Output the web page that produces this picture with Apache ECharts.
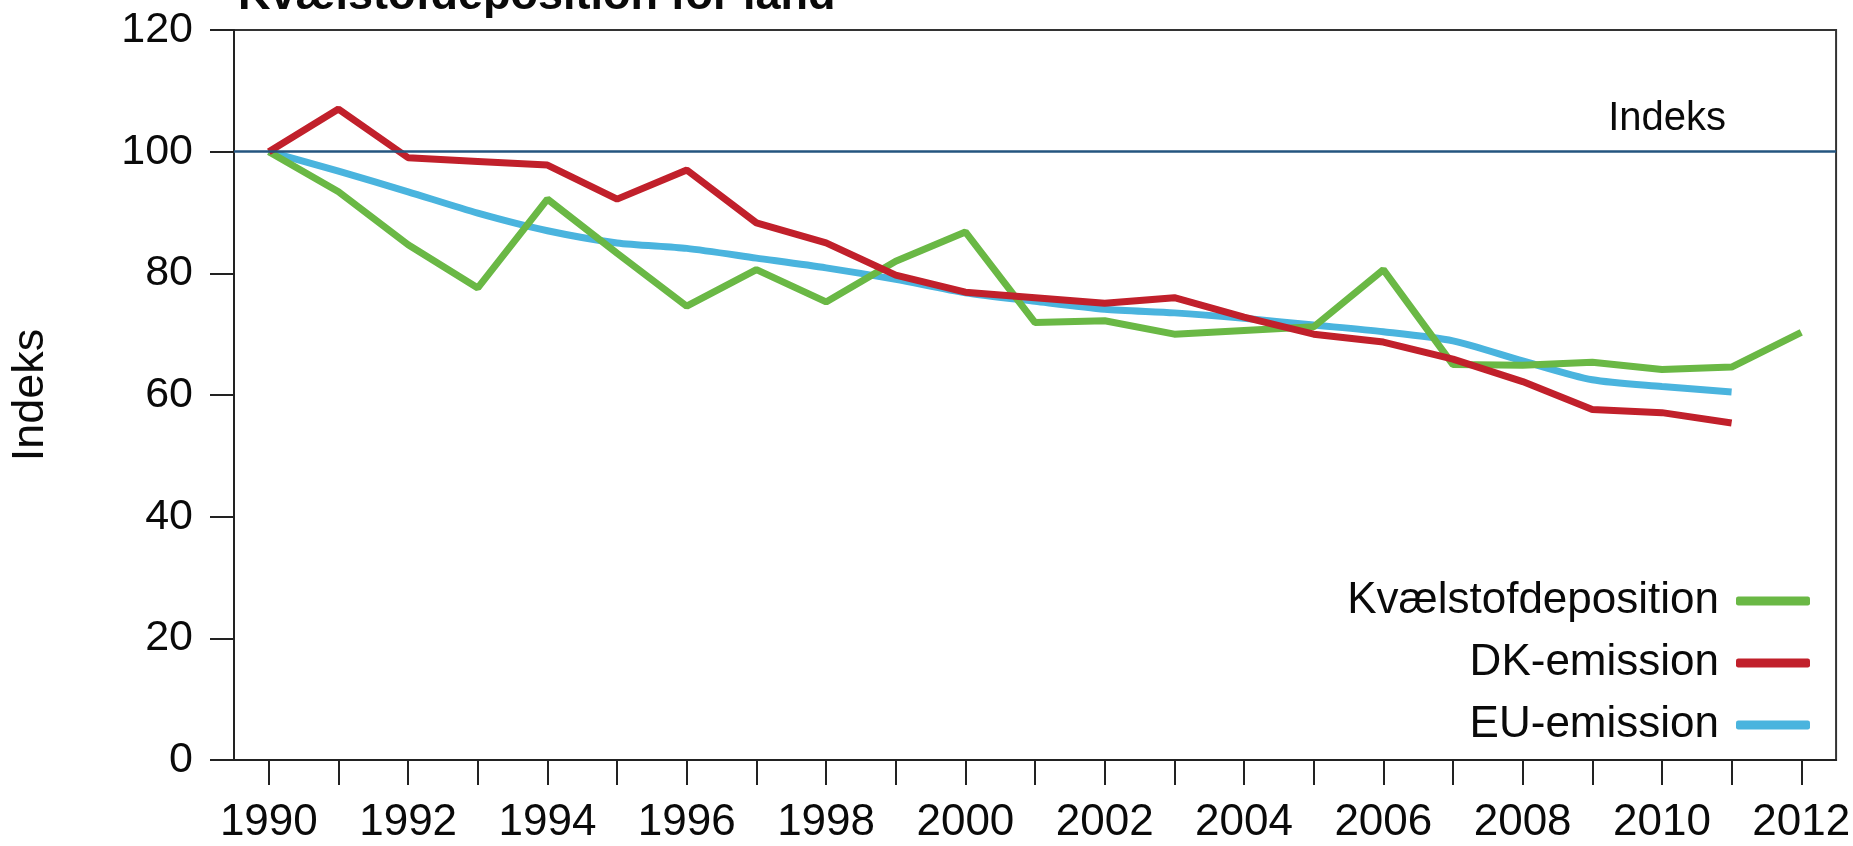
<!DOCTYPE html>
<html>
<head>
<meta charset="utf-8">
<script src="https://cdn.jsdelivr.net/npm/echarts@6/dist/echarts.min.js"></script>
<style>
html,body{margin:0;padding:0;background:#fff;}
#chart{width:1853px;height:846px;}
</style>
</head>
<body>
<div id="chart"></div>
<script>
const years = ['1990','1991','1992','1993','1994','1995','1996','1997','1998','1999','2000','2001','2002','2003','2004','2005','2006','2007','2008','2009','2010','2011','2012'];
const kvaelstofdeposition = [100, 93.4, 84.7, 77.6, 92.2, 83.3, 74.6, 80.6, 75.3, 82.0, 86.8, 71.9, 72.2, 70.0, 70.6, 71.2, 80.6, 65.0, 64.9, 65.4, 64.2, 64.6, 70.3];
const dkEmission = [100, 107.0, 99.0, 98.4, 97.8, 92.2, 97.0, 88.3, 85.0, 79.7, 76.9, 76.0, 75.1, 76.0, 72.8, 70.0, 68.7, 65.9, 62.2, 57.6, 57.1, 55.4, null];
const euEmission = [100, 96.8, 93.4, 89.9, 87.0, 85.0, 84.1, 82.5, 80.9, 79.0, 76.8, 75.4, 74.1, 73.5, 72.6, 71.5, 70.4, 68.9, 65.6, 62.5, 61.4, 60.5, null];
const seriesNames = ['Kvælstofdeposition', 'DK-emission', 'EU-emission'];
const titleText = 'Kvælstofdeposition for land';
const yAxisName = 'Indeks';
const refLabel = 'Indeks';
const refValue = 100;

const FONT = 'Liberation Sans, Arial, sans-serif';
const TXT = '#0a0a0a';
const chart = echarts.init(document.getElementById('chart'), null, {renderer: 'canvas'});
chart.setOption({
  backgroundColor: '#ffffff',
  animation: false,
  graphic: [{
    type: 'text',
    x: 238,
    y: -3,
    style: {
      text: titleText,
      font: 'bold 45px ' + FONT,
      fill: TXT,
      verticalAlign: 'middle',
      align: 'left'
    }
  }],
  grid: {
    left: 234, right: 8, top: 30, bottom: 86,
    show: true, borderColor: '#333', borderWidth: 2, backgroundColor: 'transparent'
  },
  legend: {
    orient: 'vertical',
    right: 38,
    top: 574,
    align: 'right',
    itemWidth: 74,
    itemHeight: 9,
    itemGap: 18,
    icon: 'roundRect',
    textStyle: { fontFamily: FONT, fontSize: 44, color: TXT, padding: [0, 12, 0, 0] },
    data: seriesNames
  },
  xAxis: {
    type: 'category',
    data: years,
    boundaryGap: true,
    axisLine: { show: true, lineStyle: { color: '#222', width: 2 } },
    axisTick: { show: true, alignWithLabel: true, interval: 0, length: 25, lineStyle: { color: '#222', width: 2 } },
    axisLabel: { interval: 1, margin: 41, fontFamily: FONT, fontSize: 44, color: TXT },
    splitLine: { show: false }
  },
  yAxis: {
    type: 'value',
    min: 0, max: 120, interval: 20,
    name: yAxisName,
    nameLocation: 'middle',
    nameGap: 181,
    nameTextStyle: { fontFamily: FONT, fontSize: 45, color: TXT },
    axisLine: { show: true, lineStyle: { color: '#222', width: 2 } },
    axisTick: { show: true, length: 24, lineStyle: { color: '#222', width: 2 } },
    axisLabel: { margin: 41, fontFamily: FONT, fontSize: 43, color: TXT },
    splitLine: { show: false }
  },
  series: [
    {
      name: seriesNames[0], type: 'line', data: kvaelstofdeposition,
      symbol: 'none', color: '#6ab845',
      lineStyle: { width: 7, color: '#6ab845' },
      z: 3,
      markLine: {
        silent: true, symbol: 'none',
        lineStyle: { color: '#24557f', width: 2.5, type: 'solid' },
        label: {
          show: true, position: 'insideEndTop', formatter: refLabel, distance: 13,
          fontFamily: FONT, fontSize: 40, color: TXT, padding: [0, 97, 0, 0]
        },
        data: [{ yAxis: refValue }]
      }
    },
    {
      name: seriesNames[1], type: 'line', data: dkEmission,
      symbol: 'none', color: '#c1202b',
      lineStyle: { width: 7, color: '#c1202b' },
      z: 4
    },
    {
      name: seriesNames[2], type: 'line', data: euEmission,
      symbol: 'none', color: '#4ab4de', smooth: 0.25,
      lineStyle: { width: 7, color: '#4ab4de' },
      z: 2
    }
  ]
});
</script>
</body>
</html>
